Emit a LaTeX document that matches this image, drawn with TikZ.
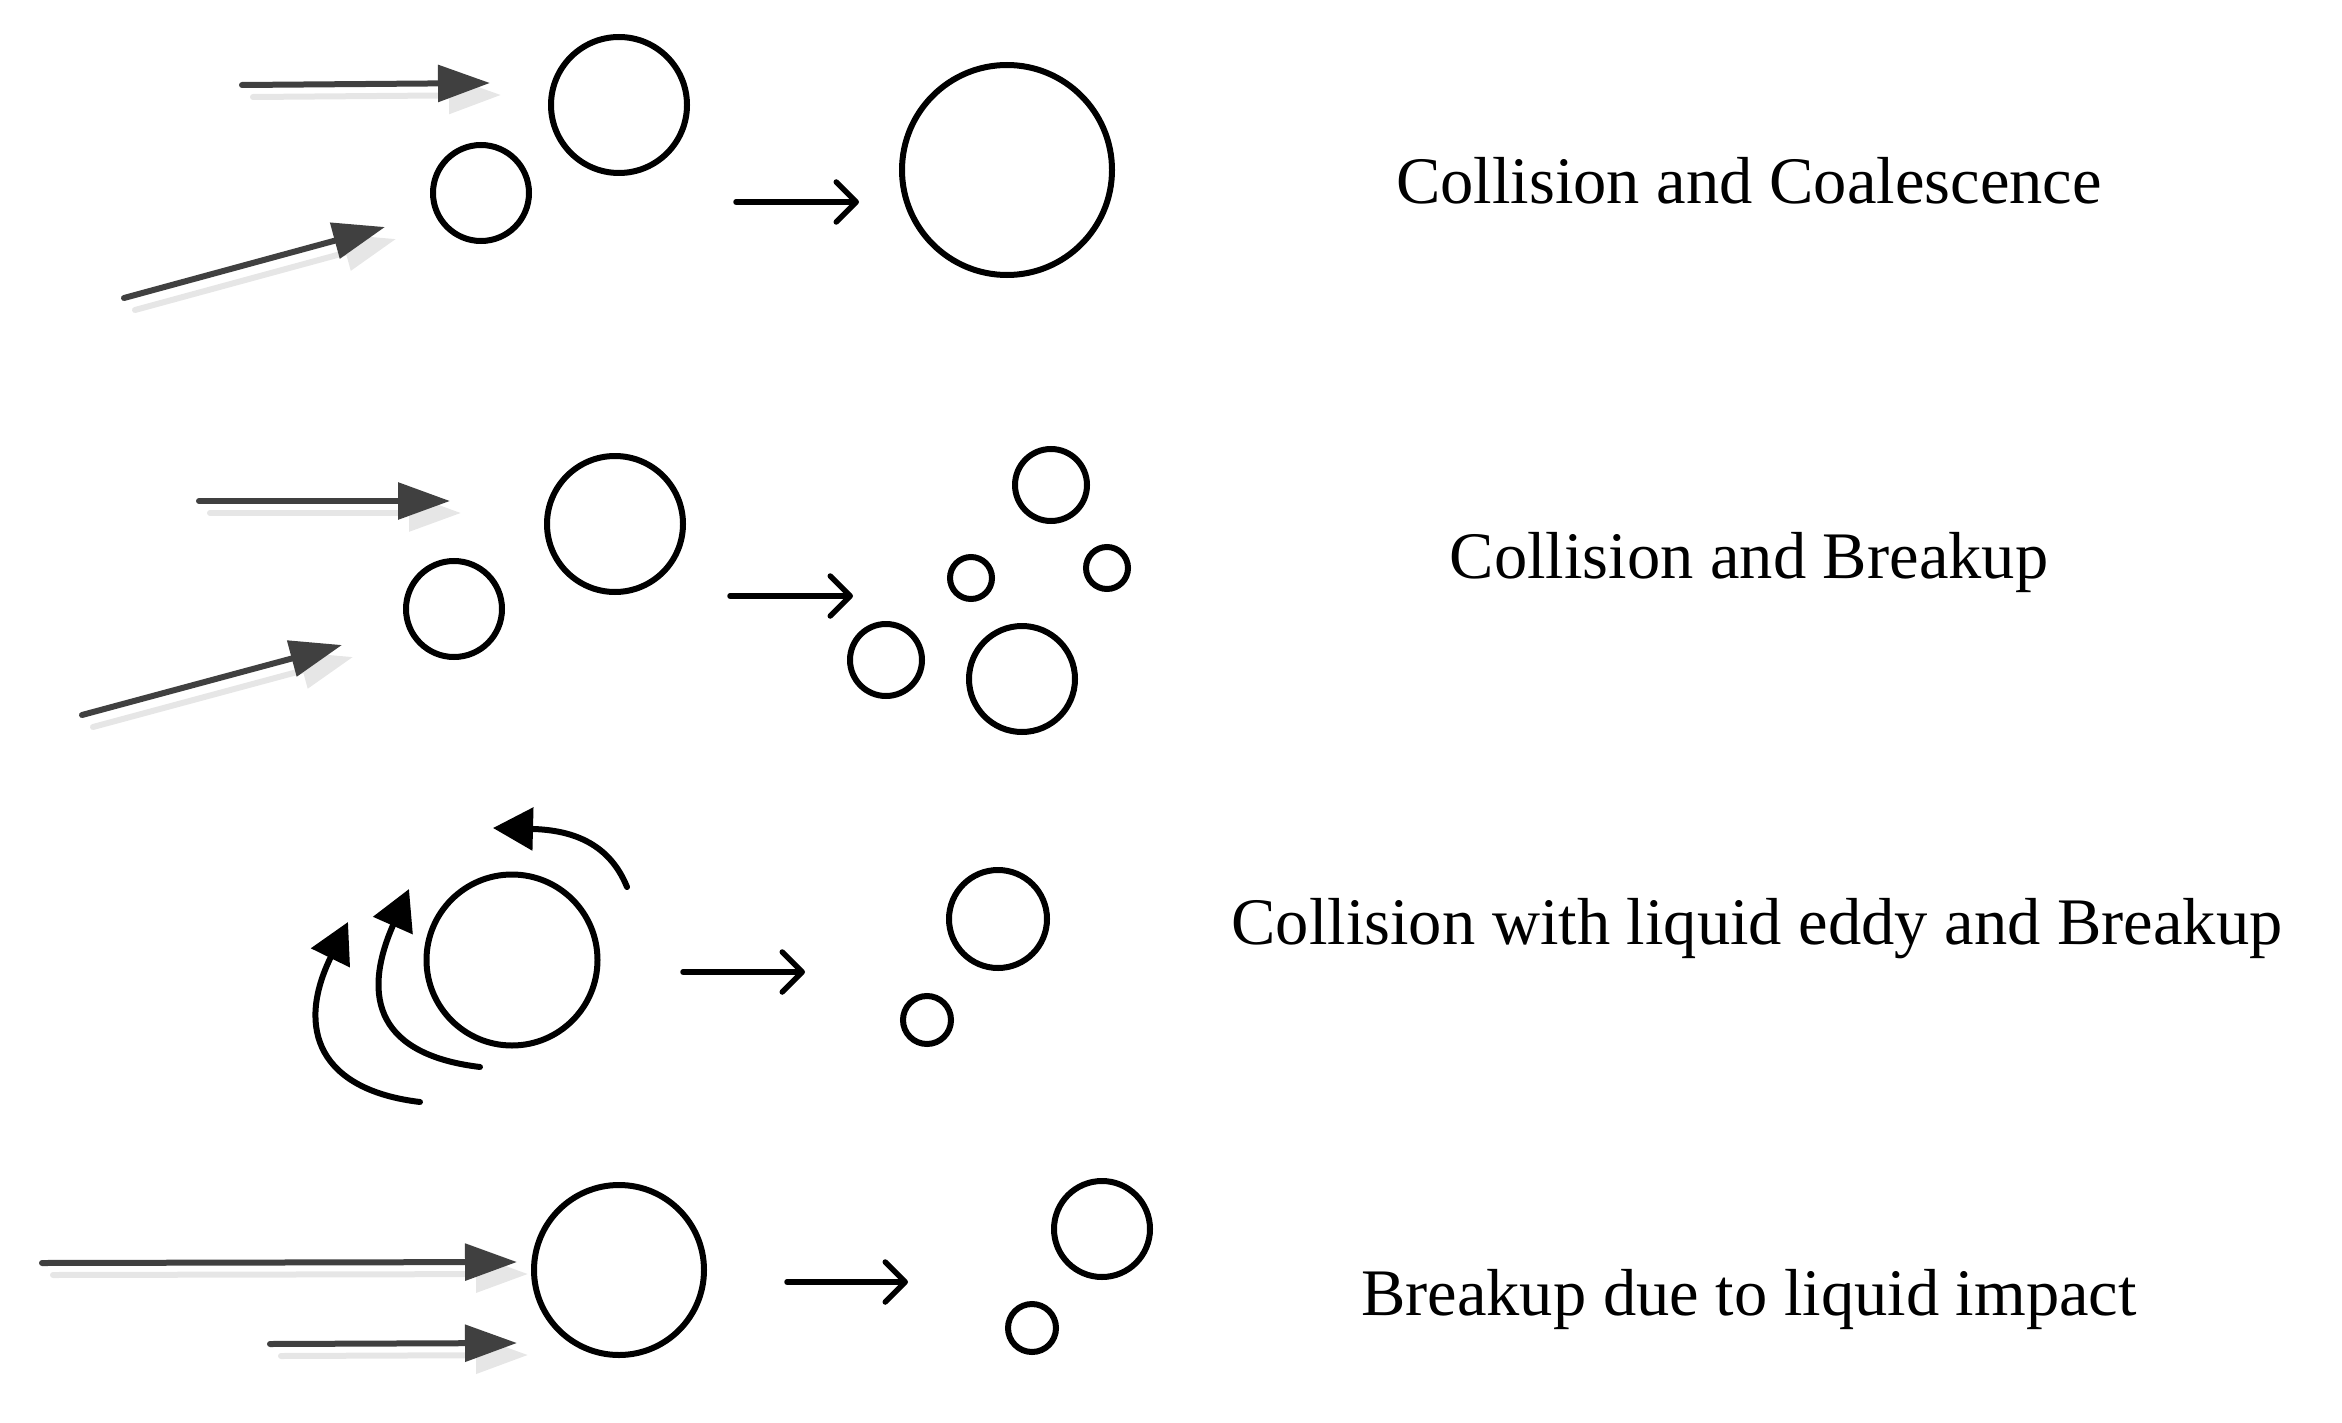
\documentclass[tikz,border=0pt]{standalone}
\usepackage{fontspec}
\setmainfont{Liberation Serif}
\usetikzlibrary{arrows.meta}
\definecolor{arrgray}{HTML}{404040}
\definecolor{shadowgray}{HTML}{E6E6E6}
\tikzset{
  bubble/.style={circle, draw=black, line width=6pt, inner sep=0pt, fill=none},
  flowarrow/.style={line width=6pt, line cap=round, draw=arrgray, -{Triangle[length=52pt,width=36pt]}, arrgray},
  flowshadow/.style={line width=6pt, line cap=round, draw=shadowgray, -{Triangle[length=52pt,width=36pt]}, shadowgray},
  procarrow/.style={line width=5.5pt, line cap=round, -{Straight Barb[length=20pt,width=40pt,round]}},
  eddyarrow/.style={line width=6pt, line cap=round, -{Triangle[length=40pt,width=42pt]}},
  label/.style={font=\fontsize{66.5}{80}\selectfont, anchor=base, inner sep=0pt}
}
\newcommand{\flowpair}[2]{%
  \draw[flowshadow, shift={(11,12)}] #1 -- #2;
  \draw[flowarrow] #1 -- #2;}
\begin{document}
\begin{tikzpicture}[x=1pt, y=-1pt]
\useasboundingbox (0,0) rectangle (2342,1423);
% ---------- Row 1: Collision and Coalescence ----------
\flowpair{(242,85)}{(490,83)}
\flowpair{(124,298)}{(385,227)}
\node[bubble, minimum size=96pt] (r1a) at (481,193) {};
\node[bubble, minimum size=136pt] (r1b) at (619,105) {};
\draw[procarrow] (736,202) -- (859,202);
\node[bubble, minimum size=210pt] (r1c) at (1007,170) {};
\node[label] (t1) at (1749,204) {Collision and Coalescence};
% ---------- Row 2: Collision and Breakup ----------
\flowpair{(199,501)}{(450,501)}
\flowpair{(82,715)}{(342,645)}
\node[bubble, minimum size=96pt] (r2a) at (454,609) {};
\node[bubble, minimum size=136pt] (r2b) at (615,524) {};
\draw[procarrow] (730,596) -- (853,596);
\node[bubble, minimum size=72pt] (r2c) at (1051,485) {};
\node[bubble, minimum size=42pt] (r2d) at (971,578) {};
\node[bubble, minimum size=42pt] (r2e) at (1107,568) {};
\node[bubble, minimum size=72pt] (r2f) at (886,660) {};
\node[bubble, minimum size=106pt] (r2g) at (1022,679) {};
\node[label] (t2) at (1749,578) {Collision and Breakup};
% ---------- Row 3: Collision with liquid eddy and Breakup ----------
\node[bubble, minimum size=171pt] (r3a) at (512,960) {};
\draw[eddyarrow] (627,887) .. controls (610,845) and (575,830) .. (493,828);
\draw[eddyarrow] (480,1067) .. controls (380,1055) and (360,1000) .. (409,889);
\draw[eddyarrow] (420,1102) .. controls (320,1090) and (295,1030) .. (348,922);
\draw[procarrow] (683,972) -- (805,972);
\node[bubble, minimum size=98pt] (r3b) at (998,919) {};
\node[bubble, minimum size=48pt] (r3c) at (927,1020) {};
\node[label] (t3) at (1757,944) {Collision with liquid eddy and Breakup};
% ---------- Row 4: Breakup due to liquid impact ----------
\flowpair{(42,1263)}{(517,1262)}
\flowpair{(270,1344)}{(517,1343)}
\node[bubble, minimum size=170pt] (r4a) at (619,1270) {};
\draw[procarrow] (787,1282) -- (908,1282);
\node[bubble, minimum size=96pt] (r4b) at (1102,1229) {};
\node[bubble, minimum size=48pt] (r4c) at (1032,1328) {};
\node[label] (t4) at (1749,1315) {Breakup due to liquid impact};
\end{tikzpicture}
\end{document}
